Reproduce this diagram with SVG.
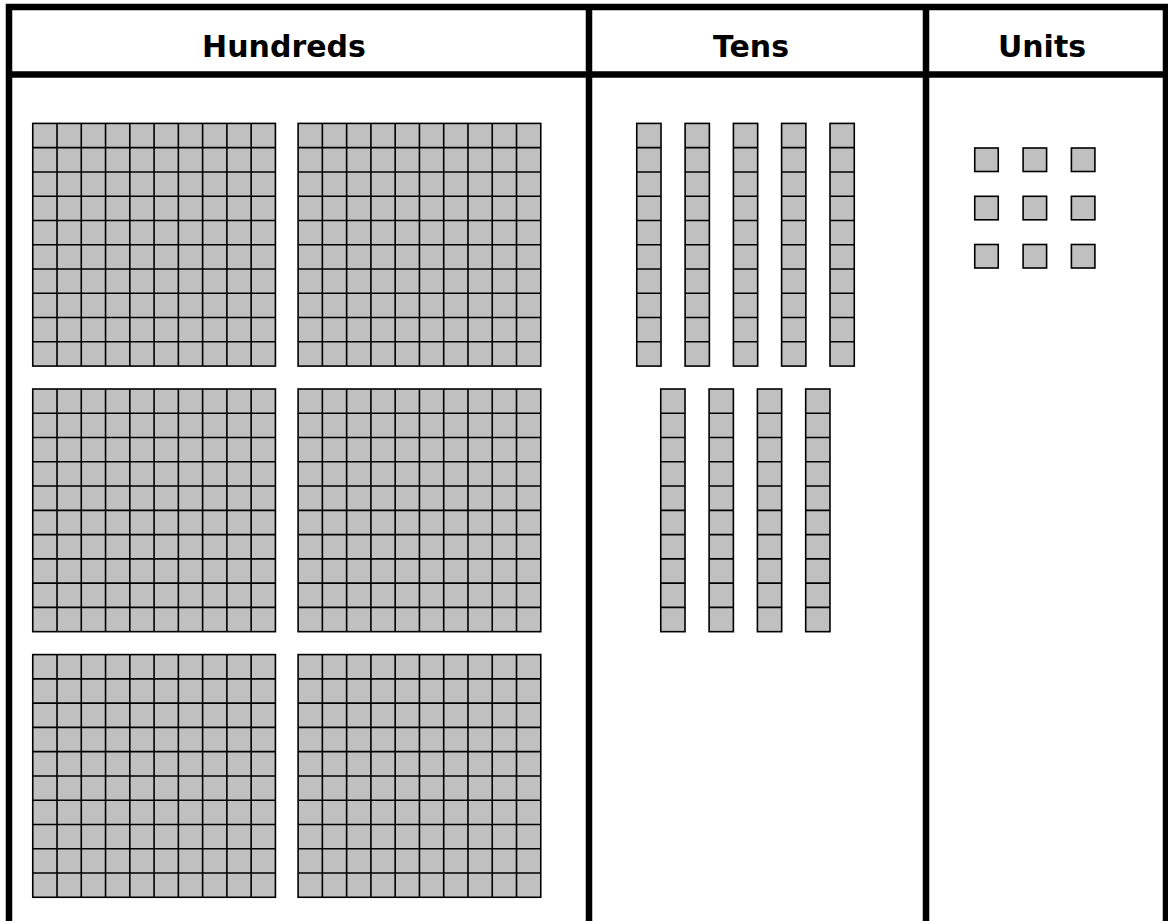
<svg xmlns="http://www.w3.org/2000/svg" xmlns:xlink="http://www.w3.org/1999/xlink" width="1168" height="921" viewBox="0 0 1168 921">
  <style>
    .frame { fill: none; stroke: #000; stroke-width: 6.5; stroke-linecap: square; }
    .block { fill: #c0c0c0; stroke: #000; stroke-width: 1.6; }
    .grid { fill: none; stroke: #000; stroke-width: 1.6; }
    .head { font-family: "DejaVu Sans", "Liberation Sans", sans-serif; font-weight: bold; font-size: 30px; fill: #000; text-anchor: middle; }
  </style>
  <defs>
    <g id="flat">
      <rect class="block" x="0" y="0" width="242.67" height="242.67"/>
      <path class="grid" d="M24.267 0V242.67M48.533 0V242.67M72.8 0V242.67M97.067 0V242.67M121.333 0V242.67M145.6 0V242.67M169.867 0V242.67M194.133 0V242.67M218.4 0V242.67M0 24.267H242.67M0 48.533H242.67M0 72.8H242.67M0 97.067H242.67M0 121.333H242.67M0 145.6H242.67M0 169.867H242.67M0 194.133H242.67M0 218.4H242.67"/>
    </g>
    <g id="rod">
      <rect class="block" x="0" y="0" width="24.27" height="242.67"/>
      <path class="grid" d="M0 24.267H24.27M0 48.533H24.27M0 72.8H24.27M0 97.067H24.27M0 121.333H24.27M0 145.6H24.27M0 169.867H24.27M0 194.133H24.27M0 218.4H24.27"/>
    </g>
    <rect id="unit" class="block" x="0" y="0" width="23.5" height="23.5"/>
  </defs>

  <rect x="0" y="0" width="1168" height="921" fill="#fff"/>

  <g id="table">
    <path class="frame" d="M9 930V7H1166V930M9 74.5H1166M589 7V930M926 7V930"/>
  </g>

  <g id="headers">
    <text id="h-hundreds" class="head" x="284" y="57">Hundreds</text>
    <text id="h-tens" class="head" x="751" y="57">Tens</text>
    <text id="h-units" class="head" x="1042" y="57">Units</text>
  </g>

  <g id="hundreds">
    <use id="flat-1" xlink:href="#flat" href="#flat" transform="translate(32.75,123.4)"/>
    <use id="flat-2" xlink:href="#flat" href="#flat" transform="translate(298.1,123.4)"/>
    <use id="flat-3" xlink:href="#flat" href="#flat" transform="translate(32.75,389)"/>
    <use id="flat-4" xlink:href="#flat" href="#flat" transform="translate(298.1,389)"/>
    <use id="flat-5" xlink:href="#flat" href="#flat" transform="translate(32.75,654.6)"/>
    <use id="flat-6" xlink:href="#flat" href="#flat" transform="translate(298.1,654.6)"/>
  </g>

  <g id="tens">
    <use id="rod-1" xlink:href="#rod" href="#rod" transform="translate(636.75,123.4)"/>
    <use id="rod-2" xlink:href="#rod" href="#rod" transform="translate(685.1,123.4)"/>
    <use id="rod-3" xlink:href="#rod" href="#rod" transform="translate(733.4,123.4)"/>
    <use id="rod-4" xlink:href="#rod" href="#rod" transform="translate(781.6,123.4)"/>
    <use id="rod-5" xlink:href="#rod" href="#rod" transform="translate(830,123.4)"/>
    <use id="rod-6" xlink:href="#rod" href="#rod" transform="translate(660.75,389)"/>
    <use id="rod-7" xlink:href="#rod" href="#rod" transform="translate(709.1,389)"/>
    <use id="rod-8" xlink:href="#rod" href="#rod" transform="translate(757.4,389)"/>
    <use id="rod-9" xlink:href="#rod" href="#rod" transform="translate(805.7,389)"/>
  </g>

  <g id="units">
    <use id="unit-1" xlink:href="#unit" href="#unit" transform="translate(974.75,148)"/>
    <use id="unit-2" xlink:href="#unit" href="#unit" transform="translate(1023.1,148)"/>
    <use id="unit-3" xlink:href="#unit" href="#unit" transform="translate(1071.4,148)"/>
    <use id="unit-4" xlink:href="#unit" href="#unit" transform="translate(974.75,196.3)"/>
    <use id="unit-5" xlink:href="#unit" href="#unit" transform="translate(1023.1,196.3)"/>
    <use id="unit-6" xlink:href="#unit" href="#unit" transform="translate(1071.4,196.3)"/>
    <use id="unit-7" xlink:href="#unit" href="#unit" transform="translate(974.75,244.5)"/>
    <use id="unit-8" xlink:href="#unit" href="#unit" transform="translate(1023.1,244.5)"/>
    <use id="unit-9" xlink:href="#unit" href="#unit" transform="translate(1071.4,244.5)"/>
  </g>
</svg>
